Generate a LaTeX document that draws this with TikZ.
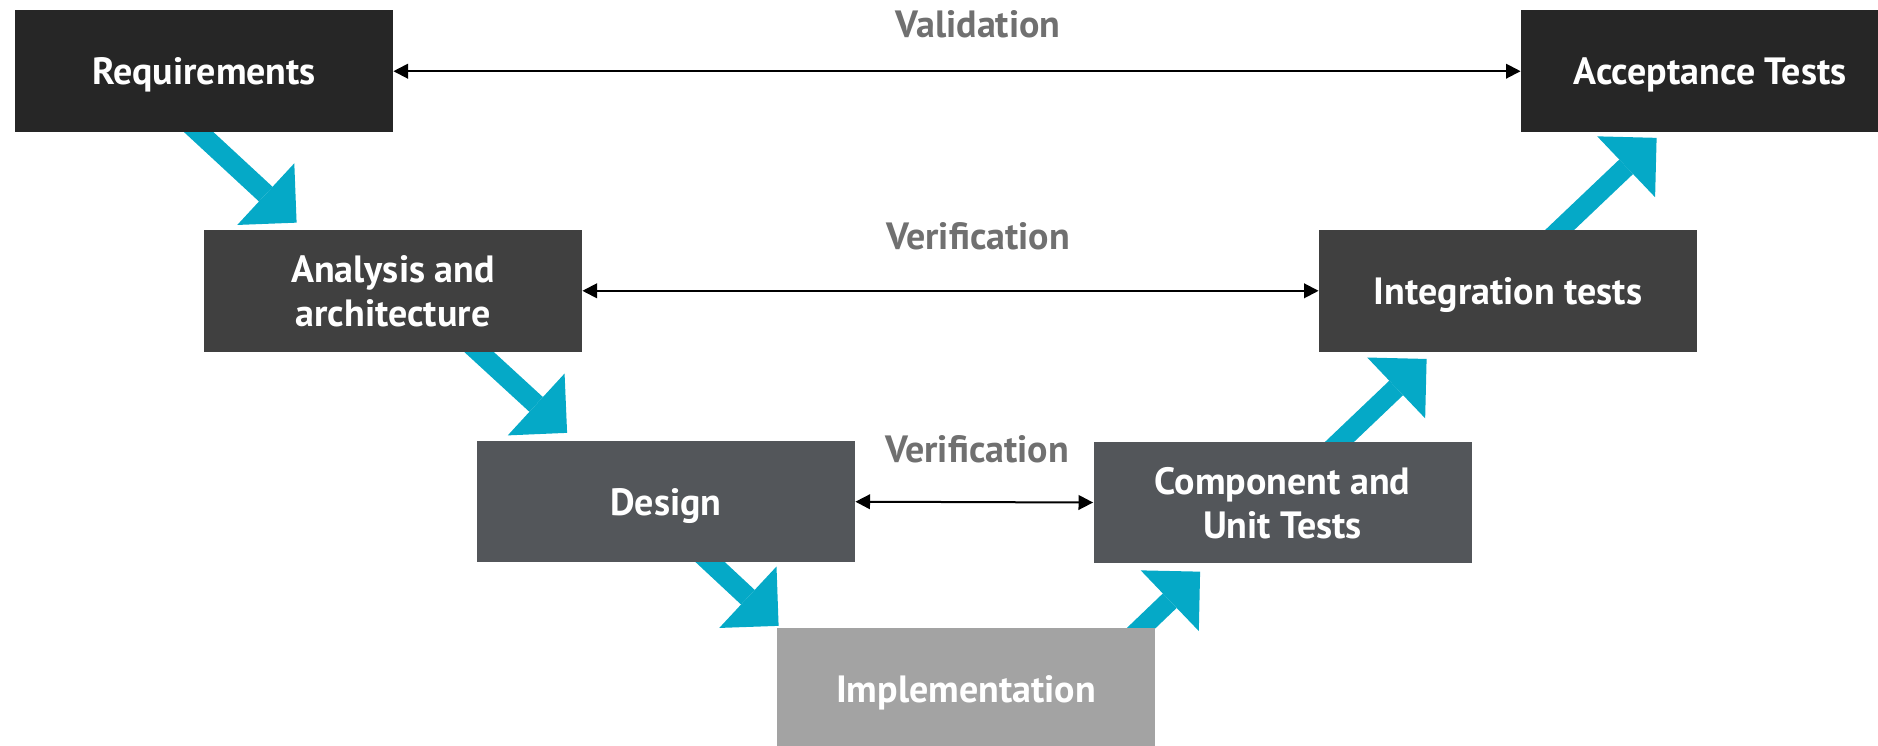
\documentclass[tikz,border=0pt]{standalone}
\usepackage{fontspec}
\setmainfont{PT Sans}[BoldFont={PT Sans Bold}]
\usetikzlibrary{arrows.meta,calc,backgrounds}

\definecolor{boxdark}{HTML}{262626}
\definecolor{boxmid}{HTML}{404040}
\definecolor{boxslate}{HTML}{53565A}
\definecolor{boxlight}{HTML}{A3A3A3}
\definecolor{flowcyan}{HTML}{05A9C7}
\definecolor{labelgray}{HTML}{707070}

\tikzset{
	phase/.style={minimum width=189pt, minimum height=60.75pt, inner sep=0pt,
		text=white, align=center, text depth=0pt,
		font=\bfseries\fontsize{19}{22}\selectfont},
	flow/.style={flowcyan, line width=10pt, shorten <=-12pt,
		-{Triangle[length=21pt,width=42pt,line width=0pt]}},
	link/.style={line width=1pt,
		{Triangle[length=7.3pt,width=7.3pt]}-{Triangle[length=7.3pt,width=7.3pt]}},
	tag/.style={text=labelgray, text depth=0pt,
		font=\bfseries\fontsize{19}{22}\selectfont}
}

\begin{document}
\begin{tikzpicture}[x=0.5pt, y=-0.5pt]
		\useasboundingbox (0,0) rectangle (1878,745);
		
		% left leg, going down
		\node[phase, fill=boxdark] (req) at (204,71.2) {Requirements};
		\node[phase, fill=boxmid] (ana) at (393,290.8) {Analysis and\\architecture};
		\node[phase, fill=boxslate] (des) at (666,501.7) {Design};
		\node[phase, fill=boxlight] (impl) at (966,689) {Implementation};
		% right leg, going up
		\node[phase, fill=boxslate] (comp) at (1282.5,502.5) {Component and\\Unit Tests};
		\node[phase, fill=boxmid] (integ) at (1508,290.8) {Integration tests};
		\node[phase, fill=boxdark] (acc) at (1710,71.2) {Acceptance Tests};
		
		% links across the V
		\draw[link] (req) -- (acc);
		\draw[link] (ana) -- (integ);
		\draw[link] (des.east) -- (comp.west);
		\node[tag] (valid) at (978,24) {Validation};
		\node[tag] (verup) at (978,236) {Verification};
		\node[tag] (verlow) at (977,448.5) {Verification};
		
		% fat arrows, tucked under the boxes
		\begin{pgfonlayer}{background}
			\draw[flow] ($(req.south)+(-5,0)$) -- ($(ana.north west)+(93,-7)$);
			\draw[flow] ($(ana.south)+(86,0)$) -- ($(des.north west)+(90.5,-7.7)$);
			\draw[flow] ($(des.south)+(45,0)$) -- ($(impl.north west)+(2,-2)$);
			\draw[flow] ($(impl.north east)+(-14,0)$) -- ($(comp.south west)+(107,8)$);
			\draw[flow] ($(comp.north west)+(247,0)$) -- ($(integ.south west)+(108,7)$);
			\draw[flow] ($(integ.north)+(52,0)$) -- ($(acc.south west)+(136,5.5)$);
		\end{pgfonlayer}
	\end{tikzpicture}
\end{document}
